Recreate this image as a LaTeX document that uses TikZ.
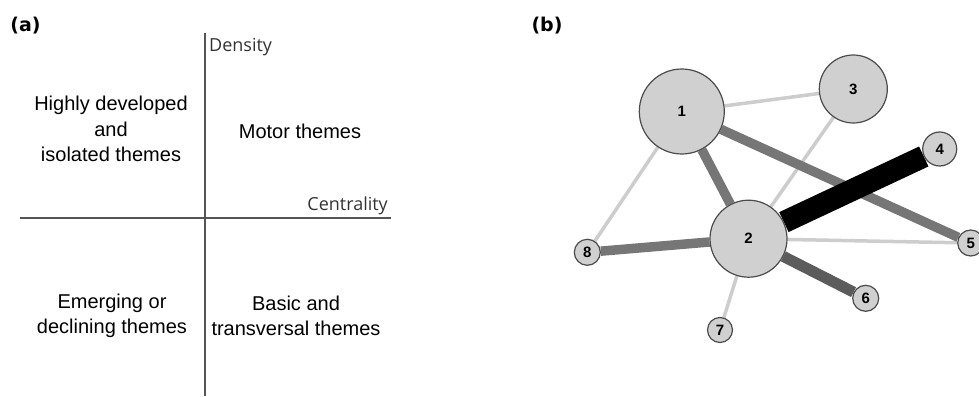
\documentclass[tikz,border=0pt]{standalone}
\usepackage{fontspec}
\setmainfont{Liberation Sans}
\newfontfamily\axisfont{Open Sans}
\newfontfamily\panelfont{DejaVu Sans}
\usetikzlibrary{backgrounds}
\definecolor{nodefill}{RGB}{208,208,208}
\definecolor{nodeline}{RGB}{75,75,75}
\definecolor{weakcol}{RGB}{205,205,205}
\definecolor{midcol}{RGB}{118,118,118}
\definecolor{darkcol}{RGB}{92,92,92}
\definecolor{axiscol}{RGB}{85,85,85}

\begin{document}
\begin{tikzpicture}[x=1pt, y=-1pt,
    theme/.style={align=center, inner sep=0pt,
                  font=\fontsize{20}{25.5}\selectfont},
    axislabel/.style={inner sep=0pt, font=\axisfont\fontsize{18}{20}\selectfont,
                      text=black!80},
    panel/.style={inner sep=0pt, font=\panelfont\bfseries\fontsize{19}{22}\selectfont},
    topic/.style={circle, draw=nodeline, fill=nodefill, line width=1.2pt,
                  inner sep=0pt, font=\bfseries\fontsize{15}{17}\selectfont},
    weak/.style={draw=weakcol, line width=3.5pt},
    medium/.style={draw=midcol, line width=9.5pt},
    heavy/.style={draw=darkcol, line width=11pt},
    strong/.style={draw=black, line width=22pt},
    ]
\useasboundingbox (0,0) rectangle (979,396);

%%% panel (a)
\node[panel] (pa) at (25.5,25.5) {(a)};
\draw[axiscol, line width=1.3pt] (205,33) -- (205,396);
\draw[axiscol, line width=1.3pt] (20,218) -- (391,218);
\node[axislabel, anchor=base west] (dens) at (209,52) {Density};
\node[axislabel, anchor=base east] (cent) at (388,210) {Centrality};
\node[theme] (q2) at (111,129) {Highly developed\\and\\isolated themes};
\node[theme] (q1) at (300,131) {Motor themes};
\node[theme] (q3) at (112,316) {Emerging or\\declining themes};
\node[theme] (q4) at (296,316) {Basic and\\transversal themes};

%%% panel (b)
\node[panel] (pb) at (547,25.5) {(b)};
\node[topic, minimum size=85pt] (n1) at (681.8,111.5) {1};
\node[topic, minimum size=77pt] (n2) at (748.5,238.7) {2};
\node[topic, minimum size=68pt] (n3) at (853.3,89) {3};
\node[topic, minimum size=34pt] (n4) at (939.7,149) {4};
\node[topic, minimum size=26pt] (n5) at (970.7,243) {5};
\node[topic, minimum size=26pt] (n6) at (865.7,298.3) {6};
\node[topic, minimum size=25pt] (n7) at (720,330) {7};
\node[topic, minimum size=26pt] (n8) at (587.3,252.3) {8};

\begin{scope}[on background layer]
    \draw[weak] (n1) -- (n3);
    \draw[weak] (n1) -- (n8);
    \draw[weak] (n3) -- (n2);
    \draw[weak] (n2) -- (n5);
    \draw[weak] (n2) -- (n7);
        %%%
    \draw[medium] (n1) -- (n2);
    \draw[medium] (n1) -- (n5);
    \draw[medium] (n2) -- (n8);
    \draw[heavy] (n2) -- (n6);
        %%%
    \draw[strong] (n2) -- (n4);
\end{scope}
\end{tikzpicture}
\end{document}
